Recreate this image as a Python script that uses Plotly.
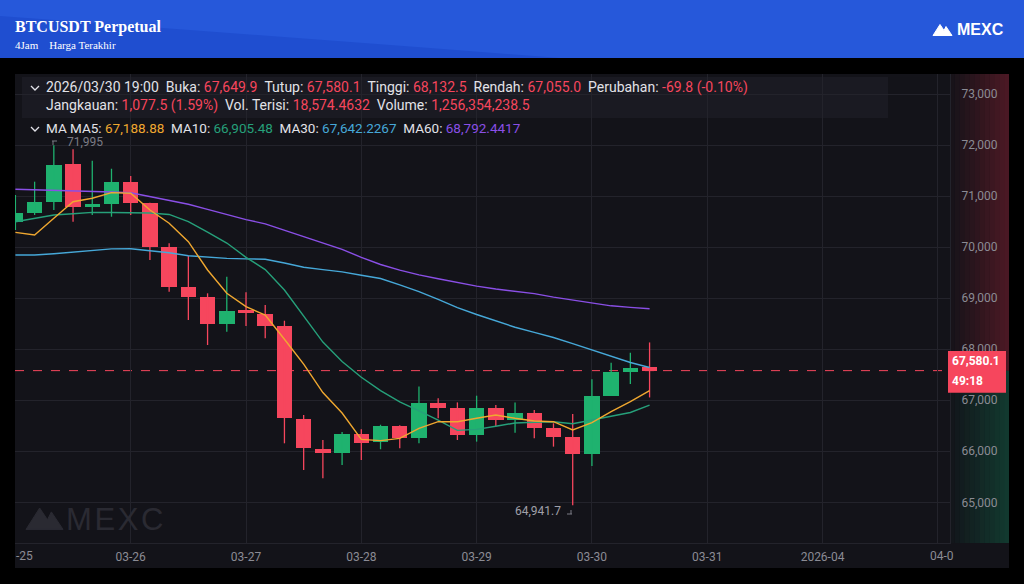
import plotly.graph_objects as go
import pandas as pd

# ---------------- data ----------------
times = pd.date_range("2026-03-25 00:00", periods=34, freq="4h")

opens = [70500, 70663, 70878, 71622, 70792, 70845, 71270, 70860, 70008, 69213,
         69017, 68490, 68768, 68690, 68460, 66633, 66044, 65960, 66333, 66190,
         66495, 66254, 66952, 66842, 66319, 66842, 66613, 66756, 66450, 66286,
         65946, 67089, 67561, 67649.9]
closes = [70668, 70878, 71615, 70792, 70840, 71270, 70860, 70008, 69213, 69017,
          68490, 68756, 68703, 68454, 66646, 66058, 65960, 66333, 66168, 66495,
          66254, 66952, 66842, 66319, 66842, 66613, 66756, 66463, 66286, 65940,
          67089, 67561, 67626, 67580.1]
highs = [71020, 71282, 71995, 71917, 71693, 71536, 71393, 70870, 70075, 69826,
         69095, 69420, 69115, 68866, 68558, 66710, 66221, 66380, 66431, 66520,
         66510, 67267, 67038, 66958, 67089, 66907, 66958, 66809, 66548, 66730,
         67410, 67737, 67931, 68132.5]
lows = [70335, 70629, 70727, 70498, 70629, 70596, 70629, 69748, 69127, 68572,
        68082, 68344, 68454, 68214, 66156, 65633, 65470, 65731, 65829, 66040,
        66058, 66156, 66646, 66221, 66189, 66495, 66365, 66254, 66091, 64941.7,
        65711, 67089, 67318, 67055.0]

ma5 = [70290, 70237, 70566, 70890, 70957, 71068, 71055, 70727, 70467, 70106,
       69552, 69095, 68833, 68670, 68196, 67709, 67150, 66750, 66234, 66208,
       66253, 66450, 66580, 66580, 66646, 66711, 66646, 66593, 66580, 66417,
       66561, 66777, 66973, 67188.88]
ma10 = [70498, 70560, 70629, 70655, 70680, 70678, 70674, 70670, 70640, 70500,
        70295, 70080, 69800, 69560, 69160, 68640, 68140, 67760, 67450, 67190,
        66970, 66790, 66610, 66410, 66430, 66490, 66555, 66570, 66580, 66540,
        66610, 66690, 66760, 66905.48]
ma30 = [69846, 69846, 69870, 69905, 69930, 69965, 69969, 69935, 69890, 69830,
        69805, 69780, 69770, 69762, 69690, 69605, 69560, 69515, 69450, 69385,
        69260, 69130, 68975, 68815, 68680, 68550, 68430, 68330, 68230, 68110,
        67985, 67850, 67740, 67642.2267]
ma60 = [71133, 71125, 71115, 71105, 71095, 71080, 71065, 70990, 70920, 70840,
        70740, 70635, 70540, 70455, 70330, 70200, 70080, 69955, 69800, 69660,
        69550, 69455, 69380, 69300, 69235, 69180, 69130, 69090, 69020, 68960,
        68900, 68850, 68820, 68792.4417]

day_ticks = ["2026-03-25", "2026-03-26", "2026-03-27", "2026-03-28", "2026-03-29",
             "2026-03-30", "2026-03-31", "2026-04-01", "2026-04-02"]
day_labels = ["", "03-26", "03-27", "03-28", "03-29", "03-30", "03-31", "2026-04", ""]
price_ticks = [65000, 66000, 67000, 68000, 69000, 70000, 71000, 72000, 73000]
price_labels = ["65,000", "66,000", "67,000", "68,000", "69,000", "70,000",
                "71,000", "72,000", "73,000"]

# ---------------- styling ----------------
W, H = 1024, 584
def px(x): return x / W
def py(y): return 1 - y / H

GREEN = "#1fb26f"
RED = "#f6465d"
C_MA5 = "#f0a830"
C_MA10 = "#26a07a"
C_MA30 = "#46a8d8"
C_MA60 = "#8a4fe6"
PANEL = "#131319"
GRID = "#23232b"
TICK = "#8b8b94"
LABEL = "#e2e2e8"

fig = go.Figure()

# wicks
for direction in (True, False):
    xs, ys = [], []
    for t, o, c, h, l in zip(times, opens, closes, highs, lows):
        if (c >= o) == direction:
            xs += [t, t, None]
            ys += [l, h, None]
    fig.add_trace(go.Scatter(x=xs, y=ys, mode="lines",
                             line=dict(color=GREEN if direction else RED, width=1.3),
                             hoverinfo="skip", showlegend=False))

# bodies
fig.add_trace(go.Bar(
    x=times,
    base=[min(o, c) for o, c in zip(opens, closes)],
    y=[max(abs(c - o), 30) for o, c in zip(opens, closes)],
    width=11_600_000,
    marker=dict(color=[GREEN if c >= o else RED for o, c in zip(opens, closes)],
                line=dict(width=0)),
    showlegend=False, hoverinfo="skip"))

# moving averages
for vals, col in ((ma60, C_MA60), (ma30, C_MA30), (ma10, C_MA10), (ma5, C_MA5)):
    fig.add_trace(go.Scatter(x=times, y=vals, mode="lines",
                             line=dict(color=col, width=1.4),
                             hoverinfo="skip", showlegend=False))

last = closes[-1]
shapes = []
# header band
shapes.append(dict(type="rect", xref="paper", yref="paper", x0=0, x1=1, y0=py(58), y1=1,
                   fillcolor="#1f4ed0", line=dict(width=0), layer="below"))
shapes.append(dict(type="path", xref="paper", yref="paper",
                   path=f"M 0 1 L 1 1 L 1 {py(58)} L {px(560)} {py(58)} Q {px(300)} {py(38)} 0 {py(16)} Z",
                   fillcolor="#2658da", line=dict(width=0), layer="below"))
# chart panel
shapes.append(dict(type="rect", xref="paper", yref="paper", x0=px(15), x1=px(1009),
                   y0=py(568), y1=py(74), fillcolor=PANEL, line=dict(width=0), layer="below"))
# right axis tint
n = 12
for k in range(n):
    a = (k + 1) / n
    x0 = px(950 + 59 * k / n)
    x1 = px(950 + 59 * (k + 1) / n)
    shapes.append(dict(type="rect", xref="paper", yref="y", x0=x0, x1=x1,
                       y0=last, y1=73392, fillcolor=f"rgba(120,30,45,{0.55*a:.3f})",
                       line=dict(width=0), layer="below"))
    shapes.append(dict(type="rect", xref="paper", yref="y", x0=x0, x1=x1,
                       y0=64203, y1=last, fillcolor=f"rgba(18,105,75,{0.45*a:.3f})",
                       line=dict(width=0), layer="below"))
# info overlay box
shapes.append(dict(type="rect", xref="paper", yref="paper", x0=px(22), x1=px(888),
                   y0=py(118), y1=py(77), fillcolor="rgba(30,30,38,0.75)",
                   line=dict(width=0), layer="below"))
# chevrons
for cy in (88, 129):
    shapes.append(dict(type="path", xref="paper", yref="paper",
                       path=f"M {px(31)} {py(cy-2)} L {px(35)} {py(cy+2)} L {px(39)} {py(cy-2)}",
                       line=dict(color=LABEL, width=1.3)))
# last price dashed line
shapes.append(dict(type="line", xref="paper", yref="y", x0=px(15), x1=px(950),
                   y0=last, y1=last, line=dict(color=RED, width=1, dash="dash"),
                   layer="below"))
# price label box
shapes.append(dict(type="rect", xref="paper", yref="y", x0=px(948), x1=px(1006),
                   y0=last - 433, y1=last + 385, fillcolor=RED, line=dict(width=0)))
# markers near extreme labels
shapes.append(dict(type="path", xref="paper", yref="paper",
                   path=f"M {px(52)} {py(141)} L {px(57)} {py(141)} M {px(53)} {py(141)} L {px(53)} {py(145)}",
                   line=dict(color="#7c7c86", width=1)))
shapes.append(dict(type="path", xref="paper", yref="paper",
                   path=f"M {px(567)} {py(514)} L {px(572)} {py(514)} M {px(571)} {py(510)} L {px(571)} {py(514)}",
                   line=dict(color="#7c7c86", width=1)))
# logos (mountain icon)
def mountain(x, y, s, color):
    p = (f"M {px(x)} {py(y+11*s)} L {px(x+7*s)} {py(y)} L {px(x+11*s)} {py(y+6*s)} "
         f"L {px(x+13*s)} {py(y+2*s)} L {px(x+19*s)} {py(y+11*s)} Z")
    return dict(type="path", xref="paper", yref="paper", path=p,
                fillcolor=color, line=dict(color=color, width=1))
shapes.append(mountain(933, 24.5, 1.0, "#ffffff"))
shapes.append(mountain(26, 508, 1.95, "#2a2a32"))

def R(v):
    return f'<span style="color:{RED}">{v}</span>'

sp = "&nbsp;&nbsp;"
line1 = (f"2026/03/30 19:00{sp}Buka: {R('67,649.9')}{sp}Tutup: {R(f'{last:,.1f}')}{sp}"
         f"Tinggi: {R(f'{highs[-1]:,.1f}')}{sp}Rendah: {R(f'{lows[-1]:,.1f}')}{sp}"
         f"Perubahan: {R('-69.8 (-0.10%)')}")
line2 = (f"Jangkauan: {R('1,077.5 (1.59%)')}{sp}Vol. Terisi: {R('18,574.4632')}{sp}"
         f"Volume: {R('1,256,354,238.5')}")
line3 = (f"MA&nbsp;MA5: <span style='color:{C_MA5}'>{ma5[-1]:,.2f}</span>{sp}"
         f"MA10: <span style='color:{C_MA10}'>{ma10[-1]:,.2f}</span>{sp}"
         f"MA30: <span style='color:{C_MA30}'>{ma30[-1]:,.4f}</span>{sp}"
         f"MA60: <span style='color:{C_MA60}'>{ma60[-1]:,.4f}</span>")

def ann(text, x, y, size, color, family="Roboto", xanchor="left", **kw):
    return dict(text=text, xref="paper", yref="paper", x=px(x), y=py(y),
                xanchor=xanchor, yanchor="middle", showarrow=False,
                font=dict(size=size, color=color, family=family), **kw)

hs = "&#8202;"
annotations = [
    ann("<b>BTCUSDT Perpetual</b>", 13, 27, 16, "#ffffff", "Liberation Serif"),
    ann("4Jam&nbsp;&nbsp;&nbsp;&nbsp;Harga Terakhir", 13, 45, 11, "#ffffff", "Liberation Serif"),
    ann("<b>MEXC</b>", 955, 30, 16, "#ffffff", "Liberation Sans"),
    ann(f"M{hs}E{hs}X{hs}C", 64, 519, 31, "#2a2a32", "Liberation Sans"),
    ann(line1, 44, 88, 14, LABEL),
    ann(line2, 44, 105, 14, LABEL),
    ann(line3, 44, 128, 13.5, LABEL),
    ann("-25", 14, 556, 12, TICK),
    ann("04-0", 956, 556, 12, TICK, xanchor="right"),
    ann(f"<b>{last:,.1f}</b>", 950, 361, 12, "#ffffff"),
    ann("<b>49:18</b>", 950, 381, 12, "#ffffff"),
    dict(text=f"{highs[2]:,.0f}", x=times[2], y=highs[2], xref="x", yref="y",
         xanchor="left", yanchor="middle", xshift=11, yshift=3, showarrow=False,
         font=dict(size=12, color="#7c7c86", family="Roboto")),
    dict(text=f"{lows[29]:,.1f}", x=times[29], y=lows[29], xref="x", yref="y",
         xanchor="right", yanchor="middle", xshift=-10, yshift=-6, showarrow=False,
         font=dict(size=12, color="#a0a0a8", family="Roboto")),
]

fig.update_layout(
    width=W, height=H, margin=dict(l=0, r=0, t=0, b=0),
    paper_bgcolor="#000000", plot_bgcolor="rgba(0,0,0,0)",
    showlegend=False, bargap=0, shapes=shapes, annotations=annotations,
    xaxis=dict(domain=[px(15), px(950)], type="date",
               range=["2026-03-24 23:55", "2026-04-02 02:32"],
               tickvals=pd.to_datetime(day_ticks), ticktext=day_labels,
               showgrid=True, gridcolor=GRID, gridwidth=1, zeroline=False,
               showline=True, linecolor=GRID, ticks="", ticklabelstandoff=3,
               tickfont=dict(size=12, color=TICK, family="Roboto")),
    yaxis=dict(domain=[py(543), py(74)], range=[64203, 73392], side="right",
               tickvals=price_ticks, ticktext=price_labels,
               showgrid=True, gridcolor=GRID, gridwidth=1, zeroline=False,
               showline=True, linecolor=GRID, ticks="", ticklabelstandoff=8,
               tickfont=dict(size=12, color=TICK, family="Roboto")),
)

fig.write_html("out.html", config={"displayModeBar": False, "staticPlot": True})
with open("out.html", "r", encoding="utf-8") as f:
    html = f.read()
html = html.replace("<head>", "<head><style>html,body{margin:0;padding:0;overflow:hidden;background:#000}</style>", 1)
with open("out.html", "w", encoding="utf-8") as f:
    f.write(html)
